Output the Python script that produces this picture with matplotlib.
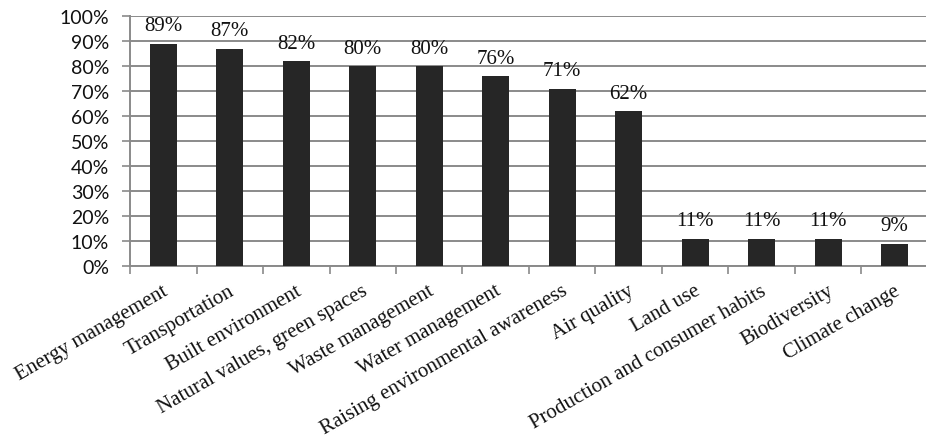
import matplotlib
matplotlib.use("Agg")
import matplotlib.pyplot as plt
from matplotlib.ticker import MultipleLocator, FuncFormatter, FixedLocator

categories = [
    "Energy management", "Transportation", "Built environment",
    "Natural values, green spaces", "Waste management", "Water management",
    "Raising environmental awareness", "Air quality", "Land use",
    "Production and consumer habits", "Biodiversity", "Climate change",
]
values = [89, 87, 82, 80, 80, 76, 71, 62, 11, 11, 11, 9]
value_labels = ["89%", "87%", "82%", "80%", "80%", "76%", "71%", "62%",
                "11%", "11%", "11%", "9%"]

W, H = 926, 439
fig = plt.figure(figsize=(W / 100, H / 100), dpi=100)
left, right, top, bottom = 130, 928, 17, 267
ax = fig.add_axes([left / W, 1 - bottom / H, (right - left) / W, (bottom - top) / H])

grid_color = "#8a8a8a"
serif = ["Liberation Serif", "DejaVu Serif"]
x = list(range(len(categories)))
ax.bar(x, values, width=0.4, color="#262626", zorder=3)

ax.set_xlim(-0.5, len(categories) - 0.5)
ax.set_ylim(0, 100)
ax.yaxis.set_major_locator(MultipleLocator(10))
ax.yaxis.set_major_formatter(FuncFormatter(lambda v, p: f"{int(v)}%"))
ax.grid(axis="y", color=grid_color, linewidth=1.4, zorder=0)

for s in ["top", "right"]:
    ax.spines[s].set_visible(False)
for s in ["left", "bottom"]:
    ax.spines[s].set_color(grid_color)
    ax.spines[s].set_linewidth(1.4)

ax.tick_params(axis="y", length=6, width=1.2, color=grid_color, pad=9,
               labelsize=14, labelcolor="#111111")
for lab in ax.get_yticklabels():
    lab.set_fontfamily("Lato")

# category boundaries as tick marks, labels at bar centers
ax.xaxis.set_major_locator(FixedLocator([i - 0.5 for i in range(len(categories) + 1)]))
ax.xaxis.set_major_formatter(FuncFormatter(lambda v, p: ""))
ax.tick_params(axis="x", length=6, width=1.2, color=grid_color)

for i, name in enumerate(categories):
    ax.text(i - 0.02, -6.0, name, rotation=30, rotation_mode="anchor",
            ha="right", va="top", fontsize=15, family=serif,
            color="#111111", transform=ax.transData, clip_on=False)

for i, (v, lab) in enumerate(zip(values, value_labels)):
    ax.annotate(lab, (i, v), xytext=(0, 6), textcoords="offset points",
                ha="center", va="bottom", fontsize=15, family=serif,
                color="#111111", zorder=4)

fig.savefig("out.png", dpi=100, facecolor="white")
